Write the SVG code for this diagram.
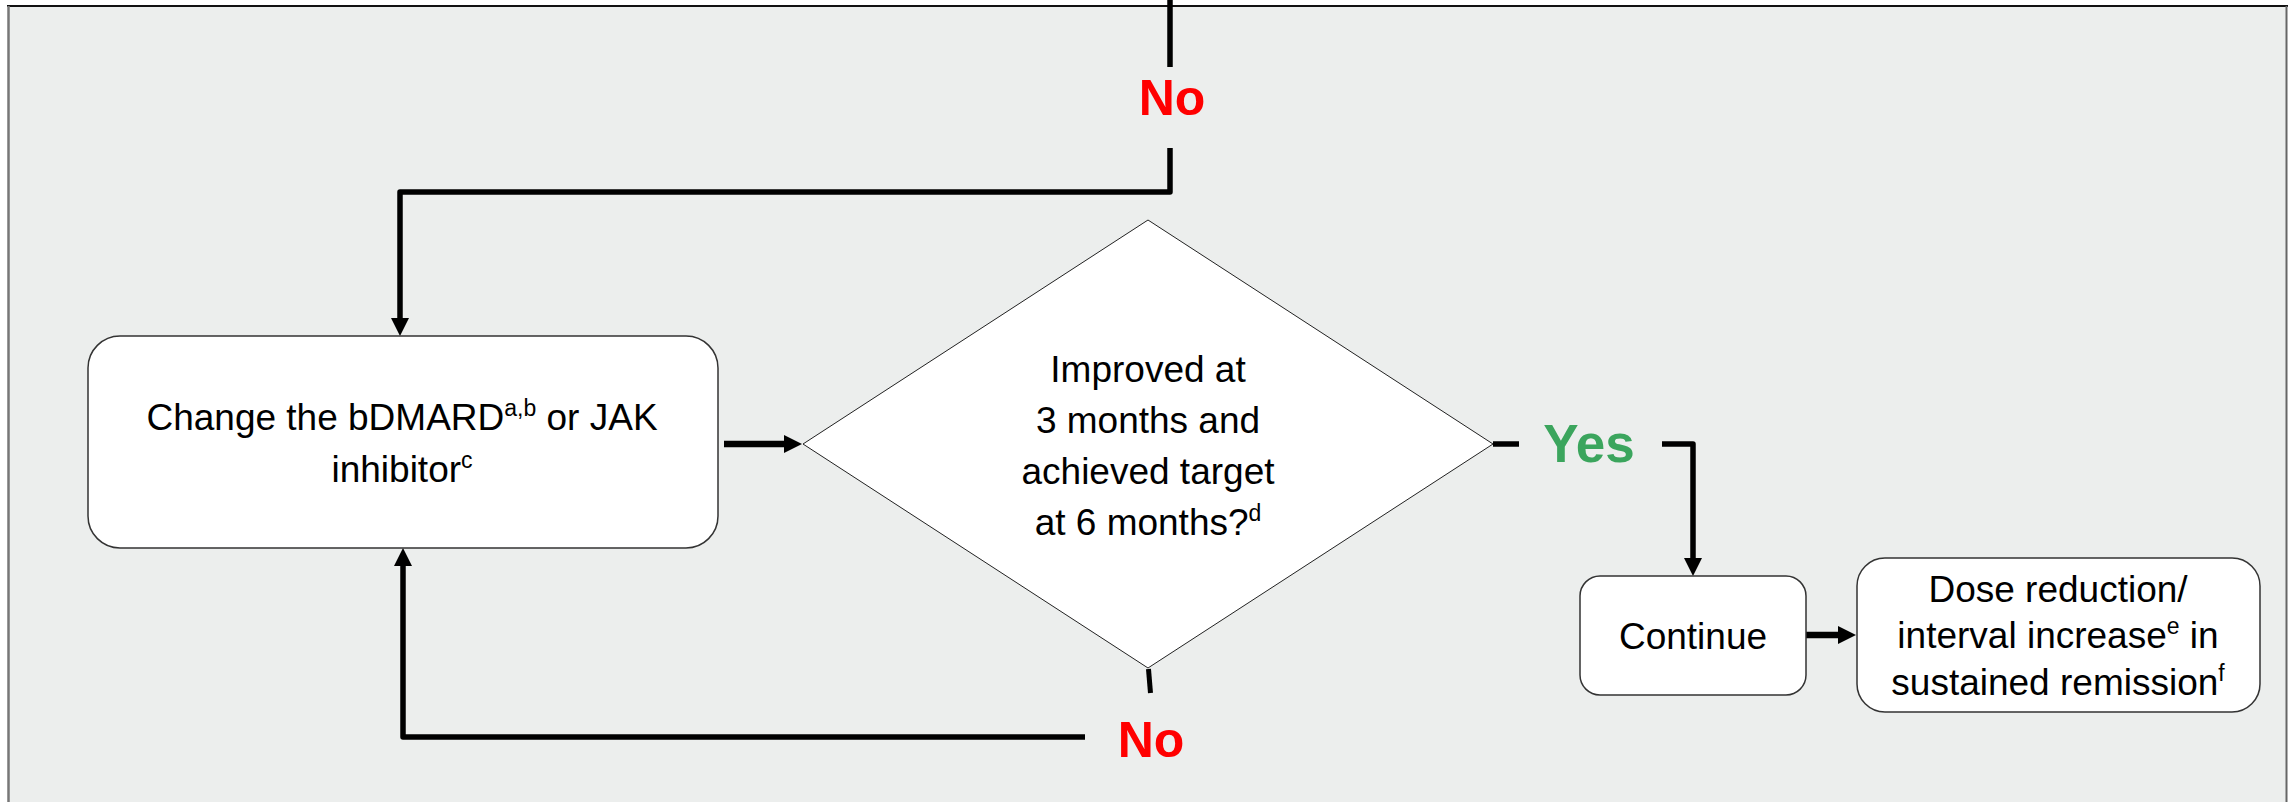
<svg xmlns="http://www.w3.org/2000/svg" width="2290" height="802" viewBox="0 0 2290 802">
<style>
.t{font-family:"Liberation Sans",Arial,sans-serif;font-size:37px;fill:#000;text-anchor:middle}
.sup{font-size:23px}
.no{font-family:"Liberation Sans",Arial,sans-serif;font-weight:bold;font-size:50px;fill:#FF0000;text-anchor:middle}
.yes{font-family:"Liberation Sans",Arial,sans-serif;font-weight:bold;font-size:53px;fill:#3BA55D;text-anchor:middle}
.box{fill:#fff;stroke:#333;stroke-width:1.5}
.dia{fill:#fff;stroke:#222;stroke-width:1}
.c{fill:none;stroke:#000;stroke-width:5.5;stroke-linejoin:round}
</style>
<defs>
<marker id="ah" markerUnits="userSpaceOnUse" markerWidth="20" markerHeight="20" refX="2" refY="9" orient="auto">
<path d="M0,0 L18,9 L0,18 z" fill="#000"/>
</marker>
</defs>
<g id="panel">
<rect x="8" y="6" width="2279" height="800" fill="#ECEEED"/>
<line x1="7" y1="6" x2="2288" y2="6" stroke="#111" stroke-width="2"/>
<line x1="8.5" y1="6" x2="8.5" y2="802" stroke="#777" stroke-width="2.5"/>
<line x1="2286.5" y1="6" x2="2286.5" y2="802" stroke="#666" stroke-width="2"/>
</g>
<g id="connectors">
<line class="c" x1="1170" y1="0" x2="1170" y2="67"/>
<path class="c" d="M1170,148 V192 H400 V320" marker-end="url(#ah)"/>
<line class="c" x1="724" y1="444" x2="786" y2="444" style="stroke-width:6.5" marker-end="url(#ah)"/>
<line class="c" x1="1148.5" y1="669" x2="1150.5" y2="693" style="stroke-width:5"/>
<path class="c" d="M1085,737 H403 V564" marker-end="url(#ah)"/>
<line class="c" x1="1493" y1="444" x2="1519" y2="444"/>
<path class="c" d="M1662,444 H1693 V560" marker-end="url(#ah)"/>
<line class="c" x1="1806" y1="635" x2="1840" y2="635" style="stroke-width:6.5" marker-end="url(#ah)"/>
</g>
<g id="labels">
<text class="no" x="1172" y="115">No</text>
<text class="no" x="1151" y="757">No</text>
<text class="yes" x="1589" y="462">Yes</text>
</g>
<g id="change">
<rect class="box" x="88" y="336" width="630" height="212" rx="32"/>
<text class="t" x="402" y="430">Change the bDMARD<tspan class="sup" dy="-14">a,b</tspan><tspan dy="14"> or JAK</tspan></text>
<text class="t" x="402" y="482">inhibitor<tspan class="sup" dy="-14">c</tspan></text>
</g>
<g id="decision">
<polygon class="dia" points="1148,220 1493,444 1148,668 803,444"/>
<text class="t" x="1148" y="382">Improved at</text>
<text class="t" x="1148" y="433">3 months and</text>
<text class="t" x="1148" y="484">achieved target</text>
<text class="t" x="1148" y="535">at 6 months?<tspan class="sup" dy="-14">d</tspan></text>
</g>
<g id="continue">
<rect class="box" x="1580" y="576" width="226" height="119" rx="20"/>
<text class="t" x="1693" y="649">Continue</text>
</g>
<g id="dose">
<rect class="box" x="1857" y="558" width="403" height="154" rx="28"/>
<text class="t" x="2058" y="602">Dose reduction/</text>
<text class="t" x="2058" y="648">interval increase<tspan class="sup" dy="-14">e</tspan><tspan dy="14"> in</tspan></text>
<text class="t" x="2058" y="695">sustained remission<tspan class="sup" dy="-14">f</tspan></text>
</g>
</svg>
